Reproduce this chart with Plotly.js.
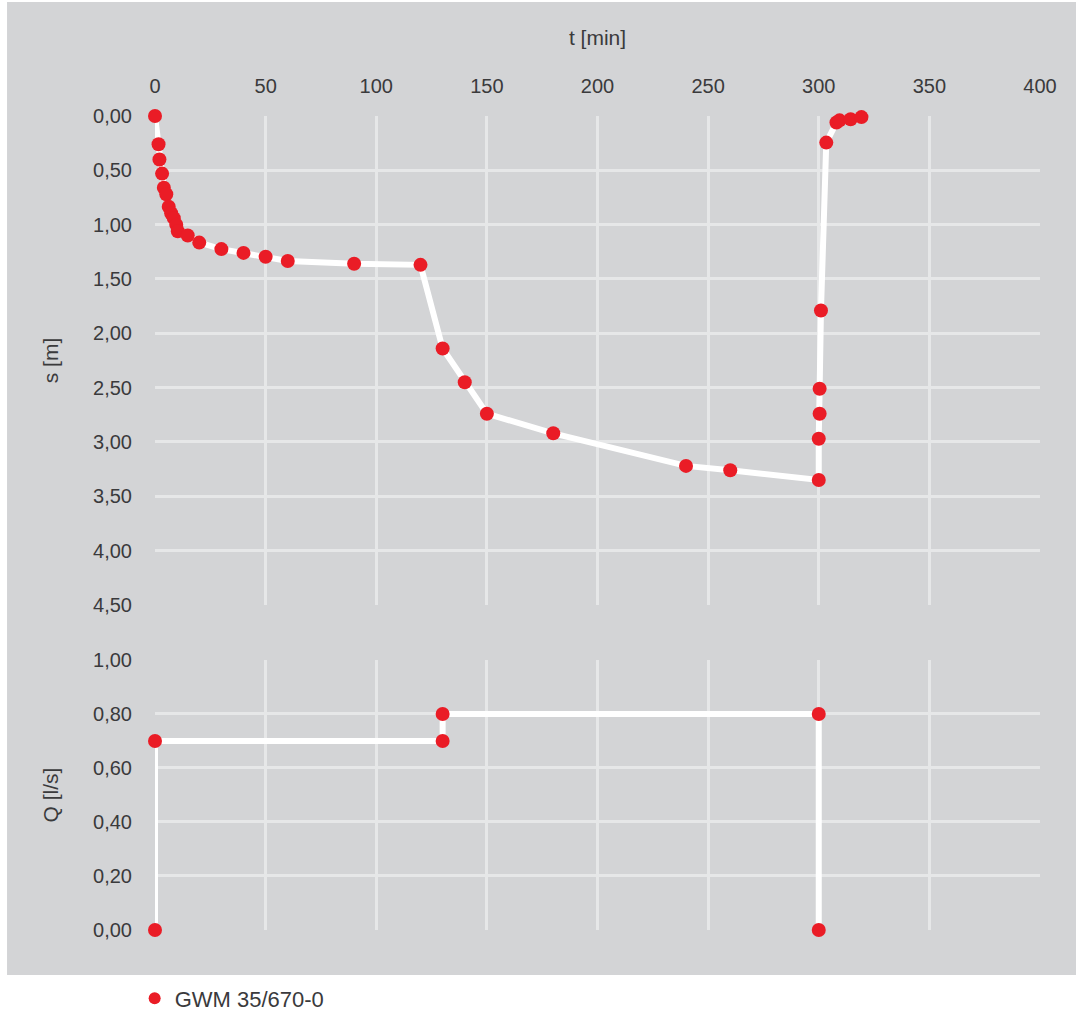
<!DOCTYPE html>
<html>
<head>
<meta charset="utf-8">
<script src="https://cdn.plot.ly/plotly-3.0.1.min.js"></script>
<style>
  html, body { margin: 0; padding: 0; background: #ffffff; }
  #chart { width: 1076px; height: 1011px; }
</style>
</head>
<body>
<div id="chart"></div>
<script>
// Drawdown s [m] versus time t [min]
const tDrawdown = [0, 1.6, 2.0, 3.2, 4.0, 5.1, 6.2, 7.3, 8.5, 9.6, 10.3, 14.8, 20, 30, 40, 50, 60, 90, 120,
                   130, 140, 150, 180, 240, 260, 300, 300, 300.4, 300.4, 301, 303.4, 308, 309.4, 314.4, 319.3];
const sDrawdown = [0.00, 0.26, 0.40, 0.53, 0.66, 0.72, 0.835, 0.895, 0.94, 1.00, 1.06, 1.10, 1.165, 1.225, 1.26, 1.295, 1.335, 1.36, 1.37,
                   2.14, 2.45, 2.74, 2.92, 3.22, 3.26, 3.35, 2.97, 2.74, 2.51, 1.79, 0.245, 0.06, 0.04, 0.03, 0.01];

// Pumping rate Q [l/s] versus time t [min]
const tRate = [0, 0, 130, 130, 300, 300];
const qRate = [0.00, 0.70, 0.70, 0.80, 0.80, 0.00];

const seriesName = "GWM 35/670-0";
const xTickVals = [0, 50, 100, 150, 200, 250, 300, 350, 400];
const sTickVals = [0, 0.5, 1, 1.5, 2, 2.5, 3, 3.5, 4, 4.5];
const qTickVals = [0, 0.2, 0.4, 0.6, 0.8, 1.0];

const red = "#ea1c26";
const gray = "#d3d4d6";
const gridCol = "#e6e7e8";
const textCol = "#3a3a3c";
const fontFam = "Liberation Sans, Arial, sans-serif";

const traces = [
  {
    x: tDrawdown, y: sDrawdown, xaxis: "x", yaxis: "y",
    type: "scatter", mode: "lines+markers", name: seriesName,
    line: { color: "#ffffff", width: 6 },
    marker: { color: red, size: 14 },
    cliponaxis: false,
    showlegend: true
  },
  {
    x: tRate, y: qRate, xaxis: "x2", yaxis: "y2",
    type: "scatter", mode: "lines+markers", name: seriesName,
    line: { color: "#ffffff", width: 6 },
    marker: { color: red, size: 14 },
    cliponaxis: false,
    showlegend: false
  }
];

const axisFont = { family: fontFam, size: 20, color: textCol };
const titleFont = { family: fontFam, size: 21, color: textCol };

const layout = {
  width: 1076, height: 1011,
  margin: { l: 155, r: 36, t: 116, b: 81, autoexpand: false },
  paper_bgcolor: "#ffffff",
  plot_bgcolor: gray,
  separators: ",.",
  font: { family: fontFam, color: textCol },
  showlegend: true,
  legend: {
    orientation: "h", x: -0.023, xanchor: "left", y: -0.084, yanchor: "middle",
    font: { family: fontFam, size: 22, color: textCol },
    bgcolor: "rgba(0,0,0,0)", itemsizing: "constant"
  },
  xaxis: {
    domain: [0, 1], anchor: "y", side: "top",
    range: [0, 400], tickvals: xTickVals, tickformat: "d",
    showgrid: true, gridcolor: gridCol, gridwidth: 3,
    zeroline: false, showline: false,
    ticks: "outside", ticklen: 14, tickcolor: "rgba(0,0,0,0)",
    tickfont: axisFont,
    title: { text: "t [min]", font: titleFont, standoff: 23 }
  },
  yaxis: {
    domain: [0.3993, 1], anchor: "x",
    range: [4.5, 0], tickvals: sTickVals, tickformat: ".2f",
    showgrid: true, gridcolor: gridCol, gridwidth: 3,
    zeroline: false, showline: false,
    ticks: "outside", ticklen: 18, tickcolor: "rgba(0,0,0,0)",
    tickfont: axisFont,
    title: { text: "s [m]", font: titleFont, standoff: 28 }
  },
  xaxis2: {
    domain: [0, 1], anchor: "y2", matches: "x",
    range: [0, 400], tickvals: xTickVals,
    showgrid: true, gridcolor: gridCol, gridwidth: 3,
    zeroline: false, showline: false, showticklabels: false, ticks: ""
  },
  yaxis2: {
    domain: [0, 0.3317], anchor: "x2",
    range: [0, 1], tickvals: qTickVals, tickformat: ".2f",
    showgrid: true, gridcolor: gridCol, gridwidth: 3,
    zeroline: false, showline: false,
    ticks: "outside", ticklen: 18, tickcolor: "rgba(0,0,0,0)",
    tickfont: axisFont,
    title: { text: "Q [l/s]", font: titleFont, standoff: 28 }
  },
  shapes: [
    {
      type: "rect", xref: "paper", yref: "paper", layer: "below",
      x0: -0.1672, x1: 1.0407, y0: -0.0553, y1: 1.140,
      fillcolor: gray, line: { width: 0 }
    }
  ]
};

Plotly.newPlot("chart", traces, layout, { displayModeBar: false, staticPlot: true });
</script>
</body>
</html>
